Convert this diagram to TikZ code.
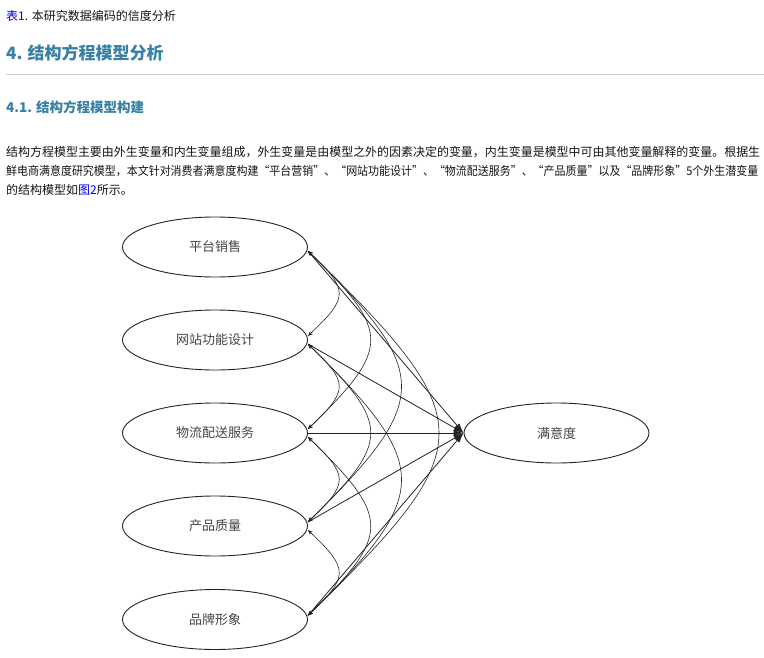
\documentclass[tikz,border=0pt]{standalone}
\usepackage{fontspec}
\setmainfont{Noto Sans CJK SC}
\usetikzlibrary{shapes.geometric,arrows.meta}
\definecolor{headblue}{RGB}{55,128,165}
\definecolor{linkblue}{RGB}{0,0,238}
\definecolor{txt}{RGB}{20,20,20}
\definecolor{rulegray}{RGB}{204,204,204}
\definecolor{ink}{RGB}{35,35,35}
\begin{document}
\begin{tikzpicture}[x=1pt,y=-1pt,
  txtline/.style={anchor=base west, inner sep=0pt, text=txt, font=\fontsize{12}{12}\selectfont},
  headline/.style={anchor=base west, inner sep=0pt, text=headblue},
  lat/.style={ellipse, draw=ink, line width=0.9pt, minimum width=185pt, minimum height=60pt, inner sep=0pt, text=ink!85, font=\fontsize{13}{13}\selectfont},
  cov/.style={draw=ink, line width=0.6pt, {Stealth[length=5pt,width=4pt]}-{Stealth[length=5pt,width=4pt]}},
  reg/.style={draw=ink, line width=0.8pt, -{Latex[length=10pt,width=6pt]}}
]
\useasboundingbox (0,0) rectangle (764,657);

% text block
\node[txtline] (t1) at (6,20.5) {\textcolor{linkblue}{表1}. 本研究数据编码的信度分析};
\node[headline, font=\fontsize{17}{17}\selectfont\bfseries] (h1) at (6,59.5) {4. 结构方程模型分析};
\draw[rulegray, line width=1pt] (6,74) -- (764,74);
\node[headline, font=\fontsize{13.5}{13.5}\selectfont\bfseries] (h2) at (6,112) {4.1. 结构方程模型构建};
\node[txtline] (p1) at (6,156.6) {\resizebox{754pt}{\height}{结构方程模型主要由外生变量和内生变量组成，外生变量是由模型之外的因素决定的变量，内生变量是模型中可由其他变量解释的变量。根据生}};
\node[txtline] (p2) at (6,175.6) {\resizebox{752pt}{\height}{鲜电商满意度研究模型，本文针对消费者满意度构建“平台营销”、“网站功能设计”、“物流配送服务”、“产品质量”以及“品牌形象”5个外生潜变量}};
\node[txtline] (p3) at (6,194.6) {的结构模型如\textcolor{linkblue}{图2}所示。};

% latent variables
\node[lat] (n1) at (215,247) {平台销售};
\node[lat] (n2) at (215,340) {网站功能设计};
\node[lat] (n3) at (215,433) {物流配送服务};
\node[lat] (n4) at (215,526) {产品质量};
\node[lat] (n5) at (215,619.5) {品牌形象};
\node[lat] (sat) at (556.5,433) {满意度};

% ports
\foreach \i in {1,...,5}{
  \coordinate (n\i u) at ([yshift=4pt]n\i.east);
  \coordinate (n\i d) at ([yshift=-4pt]n\i.east);
}

% covariances
\draw[cov] (n1d) .. controls +(41,39) and +(41,-39) .. (n2u);
\draw[cov] (n2d) .. controls +(41,39) and +(41,-39) .. (n3u);
\draw[cov] (n3d) .. controls +(41,39) and +(41,-39) .. (n4u);
\draw[cov] (n4d) .. controls +(41,39) and +(41,-39) .. (n5u);
\draw[cov] (n1d) .. controls +(83,81) and +(83,-81) .. (n3u);
\draw[cov] (n2d) .. controls +(83,81) and +(83,-81) .. (n4u);
\draw[cov] (n3d) .. controls +(83,81) and +(83,-81) .. (n5u);
\draw[cov] (n1d) .. controls +(124,122) and +(124,-122) .. (n4u);
\draw[cov] (n2d) .. controls +(124,122) and +(124,-122) .. (n5u);
\draw[cov] (n1d) .. controls +(174,170) and +(174,-170) .. (n5u);

% regressions
\draw[reg] (n1d) -- (sat.west);
\draw[reg] (n2d) -- (sat.west);
\draw[reg] (n3.east) -- (sat.west);
\draw[reg] (n4u) -- (sat.west);
\draw[reg] (n5u) -- (sat.west);
\end{tikzpicture}
\end{document}
